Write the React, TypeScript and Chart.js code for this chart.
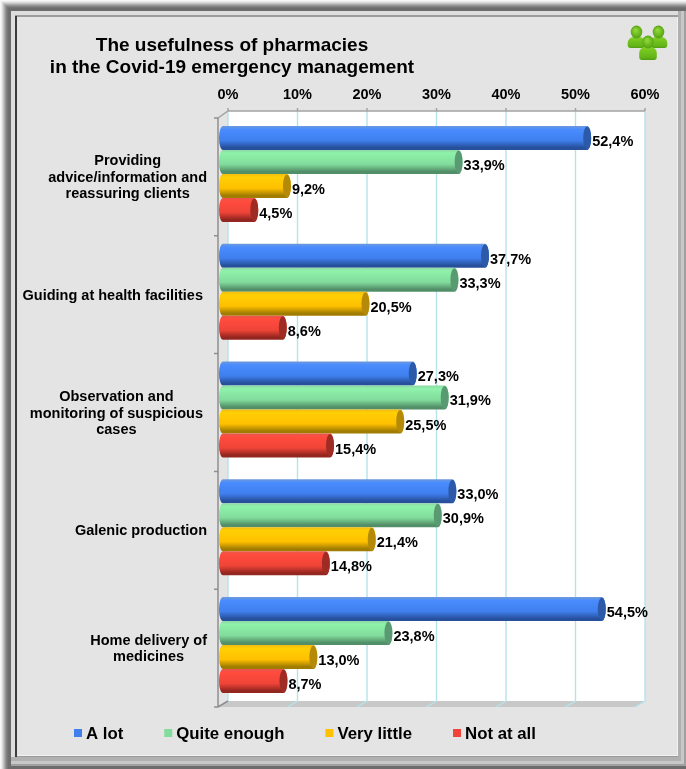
import React, { useEffect, useRef } from "react";
import { Chart, registerables } from "chart.js";

Chart.register(...registerables);

const categories: string[][] = [
  ["Providing", "advice/information and", "reassuring clients"],
  ["Guiding at health facilities"],
  ["Observation and", "monitoring of suspicious", "cases"],
  ["Galenic production"],
  ["Home delivery of", "medicines"],
];
const aLot = [52.4, 37.7, 27.3, 33.0, 54.5];
const quiteEnough = [33.9, 33.3, 31.9, 30.9, 23.8];
const veryLittle = [9.2, 20.5, 25.5, 21.4, 13.0];
const notAtAll = [4.5, 8.6, 15.4, 14.8, 8.7];
const titleLines = ["The usefulness of pharmacies", "in the Covid-19 emergency management"];

const FONT = '"Liberation Sans", Arial, sans-serif';
const palettes = [
  { base: "#3f7fee", light: "#4a8cff", edge: "#6f9ad8", dark: "#27509c", cap: "#2c5aa8" },
  { base: "#82dc9c", light: "#8ef2aa", edge: "#8fd8a6", dark: "#528f68", cap: "#5a9a72" },
  { base: "#ffc000", light: "#ffcf05", edge: "#f2bd10", dark: "#a07c00", cap: "#b48a08" },
  { base: "#f04438", light: "#ff4c3e", edge: "#e8574c", dark: "#93261f", cap: "#9e2c25" },
];

const AXIS_DROP = 3; // the category axis plane hangs slightly below the bar rows
const WALL_UP = 7; // back wall sits above and to the right of the axis plane
const WALL_LEFT = 10;
const FLOOR_DEPTH = 6;
const LABEL_RIGHT = [207, 203, 203, 207, 207];
const CLEAR = "rgba(0,0,0,0)";

function drawFrame(ctx: CanvasRenderingContext2D, w: number, h: number) {
  const band = (x: number, y: number, bw: number, bh: number, c: string) => {
    ctx.fillStyle = c;
    ctx.fillRect(x, y, bw, bh);
  };
  band(0, 0, w, h, "#f8f8f8");
  // Blurred outer shadow ring, darkening inward
  const steps = ["#ececec", "#dadada", "#c4c4c4", "#acacac", "#969696", "#848484", "#767676", "#6e6e6e"];
  steps.forEach((c, i) => band(i + 1, i + 1, w - i - 1, h - i - 1, c));
  band(9, 9, w - 9, h - 9, "#6c6c6c");

  // Bevelled bands on the right and bottom, outermost first
  band(11, 11, w - 11, h - 14, "#a0a0a0");
  band(11, 11, w - 13, h - 16, "#c8c8c8");
  band(11, 11, w - 16, h - 19, "#b0b0b0");
  band(11, 11, w - 19, h - 23, "#dedede");

  // Inner panel
  band(15, 15, w - 23, h - 27, "#9c9c9c");
  band(17, 17, w - 25, h - 30, "#f2f2f2");
  band(17, 17, w - 26, h - 31, "#e4e4e4");
  band(15, 16, 2, h - 28, "#3c3c3c");
}

function person(ctx: CanvasRenderingContext2D, cx: number, cy: number, bodyHeight: number) {
  const body = ctx.createLinearGradient(0, cy + 5, 0, cy + 6 + bodyHeight);
  body.addColorStop(0, "#80d024");
  body.addColorStop(0.75, "#62b418");
  body.addColorStop(1, "#44900e");
  ctx.fillStyle = body;
  ctx.beginPath();
  ctx.roundRect(cx - 8.8, cy + 5, 17.6, bodyHeight, [6, 6, 3, 3]);
  ctx.fill();
  const head = ctx.createRadialGradient(cx - 1, cy - 2, 1, cx, cy, 6.5);
  head.addColorStop(0, "#8cd634");
  head.addColorStop(1, "#52a012");
  ctx.fillStyle = head;
  ctx.beginPath();
  ctx.ellipse(cx, cy, 5.8, 6.4, 0, 0, Math.PI * 2);
  ctx.fill();
}

const backdrop = {
  id: "backdrop",
  beforeDraw(chart: any) {
    const { ctx, width, height, chartArea, scales } = chart;
    const { left, right } = chartArea;
    const top = chartArea.top + AXIS_DROP;
    const bottom = chartArea.bottom + AXIS_DROP;
    const xScale = scales.x;
    const yScale = scales.y;
    ctx.save();
    drawFrame(ctx, width, height);

    const backTop = top - WALL_UP;
    const wallBottom = bottom - FLOOR_DEPTH;
    const frontLeft = left - WALL_LEFT;

    // Back wall and floor
    ctx.fillStyle = "#ffffff";
    ctx.fillRect(left, backTop, right - left, wallBottom - backTop);
    ctx.fillStyle = "#c8c8c8";
    ctx.beginPath();
    ctx.moveTo(left, wallBottom);
    ctx.lineTo(right, wallBottom);
    ctx.lineTo(right - WALL_LEFT, bottom);
    ctx.lineTo(frontLeft, bottom);
    ctx.closePath();
    ctx.fill();

    // Gridlines climb the wall and run forward across the floor
    ctx.strokeStyle = "#b4e4ea";
    ctx.lineWidth = 1.4;
    xScale.ticks.forEach((t: any) => {
      const px = xScale.getPixelForValue(t.value);
      ctx.beginPath();
      ctx.moveTo(px, backTop);
      ctx.lineTo(px, wallBottom);
      ctx.lineTo(px - WALL_LEFT, bottom);
      ctx.stroke();
    });

    // Top axis with tick stubs, corner and the left category axis
    ctx.strokeStyle = "#a2a2a2";
    ctx.lineWidth = 1.5;
    ctx.beginPath();
    ctx.moveTo(frontLeft, top);
    ctx.lineTo(left, backTop);
    ctx.lineTo(right, backTop);
    xScale.ticks.forEach((t: any) => {
      const px = xScale.getPixelForValue(t.value);
      ctx.moveTo(px, backTop - 3);
      ctx.lineTo(px, backTop);
    });
    ctx.stroke();

    ctx.strokeStyle = "#8e8e8e";
    ctx.beginPath();
    ctx.moveTo(frontLeft, top);
    ctx.lineTo(frontLeft, bottom);
    const bands = yScale.ticks.length;
    for (let i = 0; i <= bands; i++) {
      const py = top + ((bottom - top) * i) / bands;
      ctx.moveTo(frontLeft - 4, py);
      ctx.lineTo(frontLeft, py);
    }
    ctx.moveTo(frontLeft, bottom);
    ctx.lineTo(left, wallBottom);
    ctx.stroke();

    // Title
    ctx.fillStyle = "#000000";
    ctx.font = `bold 19px ${FONT}`;
    ctx.textAlign = "center";
    ctx.textBaseline = "middle";
    titleLines.forEach((line, i) => ctx.fillText(line, 232, 45.5 + i * 22));

    // Category labels: right-aligned block, each line centred inside it
    ctx.font = `bold 14.5px ${FONT}`;
    categories.forEach((lines, i) => {
      const widest = Math.max(...lines.map((l) => ctx.measureText(l).width));
      const cx = LABEL_RIGHT[i] - widest / 2;
      const cy = yScale.getPixelForValue(i) + AXIS_DROP + 1;
      lines.forEach((line, j) => {
        ctx.fillText(line, cx, cy + (j - (lines.length - 1) / 2) * 16.5);
      });
    });

    // Legend row
    ctx.font = `bold 16.8px ${FONT}`;
    ctx.textAlign = "left";
    let lx = 74;
    chart.data.datasets.forEach((ds: any, di: number) => {
      ctx.fillStyle = palettes[di].base;
      ctx.fillRect(lx, 729, 8, 8);
      ctx.fillStyle = "#000000";
      ctx.fillText(ds.label, lx + 12, 734);
      lx += 12 + ctx.measureText(ds.label).width + 41;
    });

    // Three-figure emblem in the corner
    person(ctx, 636.5, 32, 11);
    person(ctx, 658.5, 32, 11);
    person(ctx, 648, 42, 13);
    ctx.restore();
  },
};

// The library lays out each bar; its visible form is a shaded cylinder ending at the bar's value.
const cylinders = {
  id: "cylinders",
  afterDatasetsDraw(chart: any) {
    const { ctx, chartArea } = chart;
    const startX = chartArea.left - WALL_LEFT + 1;
    ctx.save();
    chart.data.datasets.forEach((ds: any, di: number) => {
      const p = palettes[di];
      chart.getDatasetMeta(di).data.forEach((el: any) => {
        const h = el.height;
        const top = el.y - h / 2;
        const rx = 4;
        const endX = el.x - 1;
        const g = ctx.createLinearGradient(0, top, 0, top + h);
        g.addColorStop(0, p.edge);
        g.addColorStop(0.14, p.light);
        g.addColorStop(0.6, p.base);
        g.addColorStop(0.9, p.dark);
        g.addColorStop(1, p.dark);
        ctx.fillStyle = g;
        ctx.beginPath();
        ctx.moveTo(endX - rx, top);
        ctx.ellipse(endX - rx, el.y, rx, h / 2, 0, -Math.PI / 2, Math.PI / 2);
        ctx.lineTo(startX + rx, top + h);
        ctx.ellipse(startX + rx, el.y, rx, h / 2, 0, Math.PI / 2, (Math.PI * 3) / 2);
        ctx.closePath();
        ctx.fill();
        ctx.fillStyle = p.cap;
        ctx.beginPath();
        ctx.ellipse(endX - rx, el.y, rx, h / 2 - 0.5, 0, 0, Math.PI * 2);
        ctx.fill();
      });
    });
    // Value labels beside each bar end
    ctx.fillStyle = "#000000";
    ctx.font = `bold 14.5px ${FONT}`;
    ctx.textAlign = "left";
    ctx.textBaseline = "middle";
    chart.data.datasets.forEach((ds: any, di: number) => {
      chart.getDatasetMeta(di).data.forEach((el: any, i: number) => {
        const text = `${ds.data[i].toFixed(1).replace(".", ",")}%`;
        ctx.fillText(text, el.x, el.y + 4);
      });
    });
    ctx.restore();
  },
};

export default function App() {
  const ref = useRef<HTMLCanvasElement | null>(null);
  useEffect(() => {
    if (!ref.current) return;
    const chart = new Chart(ref.current, {
      type: "bar",
      data: {
        labels: categories,
        datasets: [
          { label: "A lot", data: aLot, backgroundColor: CLEAR },
          { label: "Quite enough", data: quiteEnough, backgroundColor: CLEAR },
          { label: "Very little", data: veryLittle, backgroundColor: CLEAR },
          { label: "Not at all", data: notAtAll, backgroundColor: CLEAR },
        ],
      },
      options: {
        indexAxis: "y",
        responsive: false,
        animation: false,
        layout: { padding: { left: 0, right: 41, top: 0, bottom: 65 } },
        datasets: { bar: { categoryPercentage: 0.815, barPercentage: 1, borderWidth: 0 } },
        plugins: {
          colors: { enabled: false },
          legend: { display: false },
          title: { display: false },
          tooltip: { enabled: false },
        },
        scales: {
          x: {
            position: "top",
            min: 0,
            max: 60,
            afterFit: (s: any) => {
              s.height = 115;
            },
            grid: { display: false },
            border: { display: false },
            ticks: {
              stepSize: 10,
              padding: 3,
              maxRotation: 0,
              color: "#000000",
              font: { family: FONT, size: 14.5, weight: "bold" },
              callback: (v: any) => `${v}%`,
            },
          },
          y: {
            afterFit: (s: any) => {
              s.width = 228;
            },
            grid: { display: false },
            border: { display: false },
            ticks: { display: false },
          },
        },
      } as any,
      plugins: [backdrop, cylinders],
    });
    return () => chart.destroy();
  }, []);
  return (
    <div style={{ position: "fixed", left: 0, top: 0, width: 686, height: 769 }}>
      <canvas ref={ref} width={686} height={769} style={{ display: "block" }} />
    </div>
  );
}
